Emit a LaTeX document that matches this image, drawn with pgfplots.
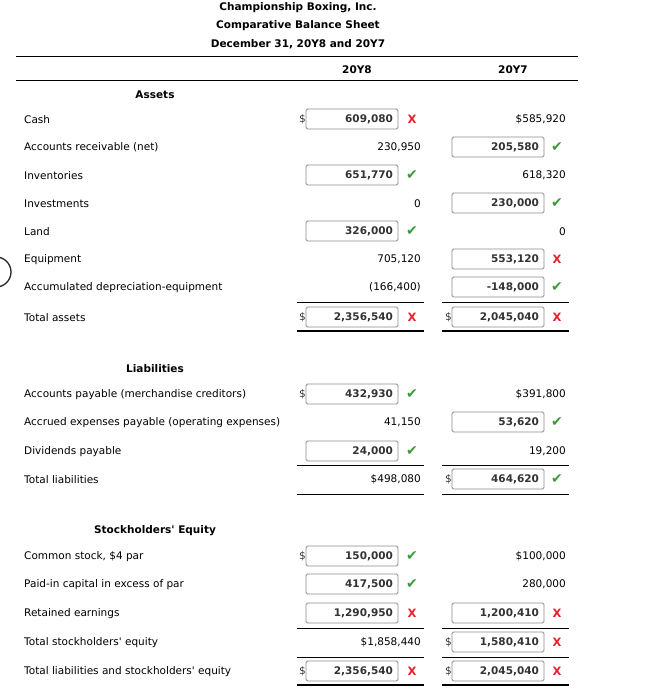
\documentclass[border=0pt]{standalone}
\usepackage{pgfplots}
\usepackage{pgfplotstable}
\pgfplotsset{compat=1.18}
\usepackage{fontspec}
\setmainfont{DejaVu Sans}
\definecolor{okgreen}{HTML}{3C9A3C}
\definecolor{badred}{HTML}{E8212B}
\definecolor{boxtxt}{HTML}{333333}
\definecolor{boxline}{HTML}{8C8C8C}
\tikzset{
  lbl/.style={font=\fontsize{10.5}{12}\selectfont, inner sep=0pt, yshift=-0.7pt},
  hdr/.style={font=\fontsize{10.5}{12}\selectfont\bfseries, inner sep=0pt, yshift=-0.7pt}}

% values typed in boxes (x = box centre, y = row)
\pgfplotstableread{
x y v
352 119 609,080
498 147 205,580
352 175 651,770
498 203 230,000
352 231 326,000
498 259 553,120
498 287 -148,000
352 317 2,356,540
498 317 2,045,040
352 394 432,930
498 422 53,620
352 451 24,000
498 479 464,620
352 556 150,000
352 584 417,500
352 613 1,290,950
498 613 1,200,410
498 642 1,580,410
352 671 2,356,540
498 671 2,045,040
}\tblBoxes

% given values (x = right edge)
\pgfplotstableread{
x y v
566 119 \$585,920
421 147 230,950
566 175 618,320
421 203 0
566 231 0
421 259 705,120
421 287 (166,400)
566 394 \$391,800
421 422 41,150
566 451 19,200
421 479 \$498,080
566 556 \$100,000
566 584 280,000
421 642 \$1,858,440
}\tblPlain

% dollar signs in front of boxes
\pgfplotstableread{
x y
306 119
306 317
452 317
306 394
452 479
306 556
452 642
306 671
452 671
}\tblDollar

\pgfplotstableread{
x y
557 147
412 175
557 203
412 231
557 287
412 394
557 422
412 451
557 479
412 556
412 584
}\tblCheck

\pgfplotstableread{
x y
412 119
557 259
412 317
557 317
412 613
557 613
557 642
412 671
557 671
}\tblCross

\begin{document}
\begin{tikzpicture}
\begin{axis}[width=650pt,height=692pt,scale only axis,
  xmin=0,xmax=650,ymin=0,ymax=692,y dir=reverse,
  hide axis,clip=false]

% rules
\draw[line width=1pt] (axis cs:16,57) -- (axis cs:578,57);
\draw[line width=1pt] (axis cs:16,81) -- (axis cs:578,81);
\pgfplotsinvokeforeach{302,465,494,628,657}{
  \draw[line width=1pt] (axis cs:297,#1) -- (axis cs:424,#1);
  \draw[line width=1pt] (axis cs:442,#1) -- (axis cs:569,#1);
}
\pgfplotsinvokeforeach{331,685}{
  \draw[line width=2.6pt] (axis cs:297,#1) -- (axis cs:424,#1);
  \draw[line width=2.6pt] (axis cs:442,#1) -- (axis cs:569,#1);
}

% titles
\node[hdr] at (axis cs:298,7) {Championship Boxing, Inc.};
\node[hdr] at (axis cs:298,25) {Comparative Balance Sheet};
\node[hdr] at (axis cs:298,44) {December 31, 20Y8 and 20Y7};
\node[hdr] at (axis cs:357,69) {20Y8};
\node[hdr] at (axis cs:513,69) {20Y7};
\node[hdr] at (axis cs:155,94) {Assets};
\node[hdr] at (axis cs:155,368) {Liabilities};
\node[hdr] at (axis cs:155,530) {Stockholders\textquotesingle{} Equity};

% row labels
\node[lbl,anchor=west] at (axis cs:24,119) {Cash};
\node[lbl,anchor=west] at (axis cs:24,147) {Accounts receivable (net)};
\node[lbl,anchor=west] at (axis cs:24,175) {Inventories};
\node[lbl,anchor=west] at (axis cs:24,203) {Investments};
\node[lbl,anchor=west] at (axis cs:24,231) {Land};
\node[lbl,anchor=west] at (axis cs:24,259) {Equipment};
\node[lbl,anchor=west] at (axis cs:24,287) {Accumulated depreciation-equipment};
\node[lbl,anchor=west] at (axis cs:24,317) {Total assets};
\node[lbl,anchor=west] at (axis cs:24,394) {Accounts payable (merchandise creditors)};
\node[lbl,anchor=west] at (axis cs:24,422) {Accrued expenses payable (operating expenses)};
\node[lbl,anchor=west] at (axis cs:24,451) {Dividends payable};
\node[lbl,anchor=west] at (axis cs:24,479) {Total liabilities};
\node[lbl,anchor=west] at (axis cs:24,556) {Common stock, \$4 par};
\node[lbl,anchor=west] at (axis cs:24,584) {Paid-in capital in excess of par};
\node[lbl,anchor=west] at (axis cs:24,613) {Retained earnings};
\node[lbl,anchor=west] at (axis cs:24,642) {Total stockholders\textquotesingle{} equity};
\node[lbl,anchor=west] at (axis cs:24,671) {Total liabilities and stockholders\textquotesingle{} equity};

% boxed entries
\addplot[draw=none, mark=none, nodes near coords, point meta=explicit symbolic,
  nodes near coords style={anchor=center, draw=boxline, line width=0.9pt, rounded corners=1.5pt,
    fill=white, text width=82pt, align=right, minimum height=20pt, inner xsep=5pt, inner ysep=0pt,
    font=\fontsize{10.5}{12}\selectfont\bfseries, text=boxtxt}]
  table[x=x,y=y,meta=v]{\tblBoxes};

% given entries
\addplot[draw=none, mark=none, nodes near coords, point meta=explicit symbolic,
  nodes near coords style={anchor=east, inner sep=0pt, yshift=-0.7pt,
    font=\fontsize{10.5}{12}\selectfont, text=black}]
  table[x=x,y=y,meta=v]{\tblPlain};

% dollar signs
\addplot[draw=none, mark=none, nodes near coords={\$},
  nodes near coords style={anchor=east, inner sep=0pt, yshift=-0.7pt, font=\fontsize{10.5}{12}\selectfont, text=black!80}]
  table[x=x,y=y]{\tblDollar};

% check marks
\addplot[draw=none, mark=none, nodes near coords={✔},
  nodes near coords style={anchor=center, inner sep=0pt, font=\fontsize{14}{14}\selectfont, text=okgreen}]
  table[x=x,y=y]{\tblCheck};

% crosses
\addplot[draw=none, mark=none, nodes near coords={X},
  nodes near coords style={anchor=center, inner sep=0pt, font=\fontsize{11.5}{12}\selectfont\bfseries, text=badred}]
  table[x=x,y=y]{\tblCross};

% partial circle at left edge
\draw[line width=1.3pt, black!85] (axis cs:-4,272) circle[radius=15pt];
\end{axis}
\pgfresetboundingbox
\useasboundingbox (current axis.south west) rectangle (current axis.north east);
\end{tikzpicture}
\end{document}
